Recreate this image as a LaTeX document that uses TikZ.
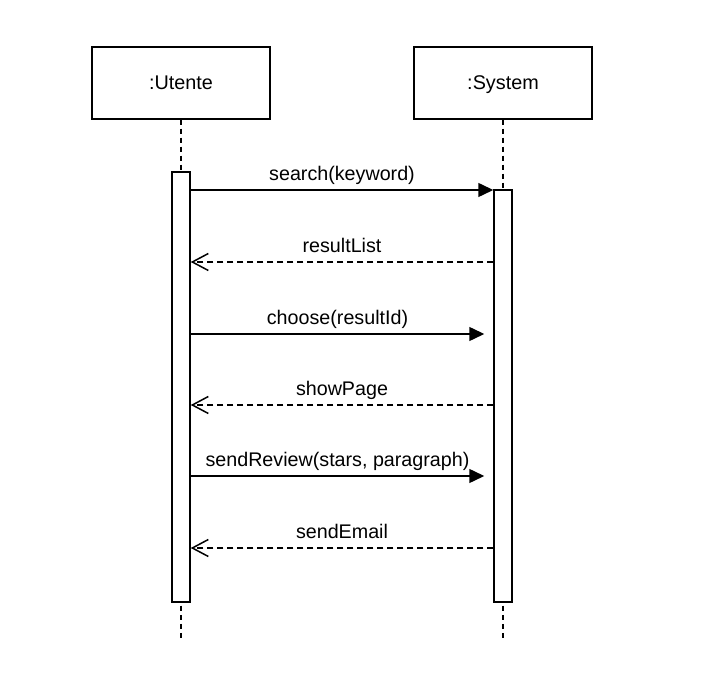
\documentclass[tikz,border=0pt]{standalone}
\usepackage{fontspec}
\setmainfont{Liberation Sans}
\usepackage{tikz}
\usetikzlibrary{arrows.meta, positioning}

\begin{document}
\begin{tikzpicture}[
    x=1pt, y=-1pt, line width=1.5pt,
    actor/.style={rectangle, draw, minimum width=178pt, minimum height=72pt, inner sep=0pt, text height=14pt, text depth=0pt, font=\fontsize{19.8}{23}\selectfont},
    activation/.style={rectangle, draw, fill=white, minimum width=18pt, inner sep=0pt},
    lifeline/.style={dash pattern=on 5pt off 4pt},
    call/.style={-{Triangle[length=15pt, width=14pt]}},
    reply/.style={dash pattern=on 6pt off 4pt, -{Straight Barb[length=16pt, width=17pt]}},
    msg/.style={font=\fontsize{19.7}{23}\selectfont, anchor=base, yshift=9pt, inner sep=0pt}
]
\useasboundingbox (0,0) rectangle (713,676);

% Participants
\node[actor] (utente) at (181,83) {:Utente};
\node[actor] (system) at (503,83) {:System};

% Lifelines
\coordinate (lifeend) at (0,638);
\draw[lifeline] (utente.south) -- (utente.south |- lifeend);
\draw[lifeline] (system.south) -- (system.south |- lifeend);

% Activations
\node[activation, minimum height=430pt] (uact) at (181,387) {};
\node[activation, minimum height=412pt] (sact) at (503,396) {};

% Messages
\coordinate (m1) at (0,190);
\coordinate (m2) at (0,262);
\coordinate (m3) at (0,334);
\coordinate (m4) at (0,405);
\coordinate (m5) at (0,476);
\coordinate (m6) at (0,548);

\draw[call] (uact.east |- m1) -- (sact.west |- m1) node[msg, midway] {search(keyword)};
\draw[reply] (sact.west |- m2) -- (uact.east |- m2) node[msg, midway] {resultList};
\draw[call] (uact.east |- m3) -- ([xshift=-9pt]sact.west |- m3) node[msg, midway] {choose(resultId)};
\draw[reply] (sact.west |- m4) -- (uact.east |- m4) node[msg, midway] {showPage};
\draw[call] (uact.east |- m5) -- ([xshift=-9pt]sact.west |- m5) node[msg, midway] {sendReview(stars, paragraph)};
\draw[reply] (sact.west |- m6) -- (uact.east |- m6) node[msg, midway] {sendEmail};

\end{tikzpicture}
\end{document}
